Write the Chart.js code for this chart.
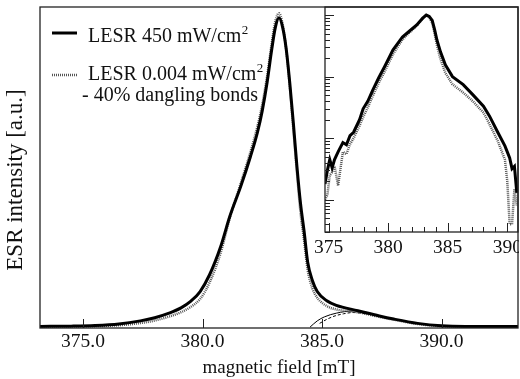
<!DOCTYPE html>
<html>
<head>
<meta charset="utf-8">
<script src="https://cdn.jsdelivr.net/npm/chart.js@4.4.1/dist/chart.umd.min.js"></script>
<style>
  html, body { margin: 0; padding: 0; background: #fff; }
  #wrap { position: relative; width: 520px; height: 379px; }
  #main { position: absolute; left: 0; top: 0; }
  #inset { position: absolute; left: 300px; top: 0; }
</style>
</head>
<body>
<div id="wrap">
  <canvas id="main" width="520" height="379"></canvas>
  <canvas id="inset" width="219" height="262"></canvas>
</div>
<script>
// main spectrum, normalised intensity vs field (mT)
var fieldMain = [373.2, 374.5, 375.5, 376.5, 377.4, 378.0, 378.6, 379.1, 379.5, 379.9,
  380.3, 380.75, 381.15, 381.6, 382.0, 382.3, 382.5, 382.7, 382.9, 383.05,
  383.2, 383.35, 383.5, 383.65, 383.8, 383.95, 384.1, 384.25, 384.4, 384.6,
  384.8, 385.2, 385.6, 386.5, 387.4, 388.0, 389.0, 390.0, 391.0, 392.0, 393.2];
var lesrHigh = [0.002, 0.003, 0.005, 0.010, 0.020, 0.030, 0.045, 0.062, 0.083, 0.115,
  0.170, 0.258, 0.360, 0.455, 0.550, 0.630, 0.700, 0.790, 0.900, 0.970,
  1.000, 0.970, 0.900, 0.790, 0.660, 0.520, 0.400, 0.310, 0.210, 0.150,
  0.115, 0.085, 0.070, 0.053, 0.036, 0.026, 0.012, 0.004, 0.002, 0.002, 0.002];
var lesrLow = [0.001, 0.002, 0.003, 0.006, 0.013, 0.021, 0.034, 0.048, 0.065, 0.091,
  0.145, 0.238, 0.355, 0.465, 0.565, 0.650, 0.720, 0.810, 0.920, 0.990,
  1.015, 0.980, 0.900, 0.780, 0.640, 0.500, 0.370, 0.280, 0.185, 0.125,
  0.095, 0.068, 0.057, 0.048, 0.033, 0.024, 0.010, 0.003, 0.001, 0.001, 0.001];

// dangling bond component lines
var dbFieldHigh = [384.5, 384.8, 385.1, 385.6, 386.3, 387.0];
var dbHigh = [0.000, 0.020, 0.033, 0.045, 0.052, 0.046];
var dbFieldLow = [384.9, 385.2, 385.5, 385.9, 386.3, 387.0];
var dbLow = [0.012, 0.025, 0.035, 0.043, 0.047, 0.041];

var mainTicks = [375, 380, 385, 390];

// inset, log intensity
var fieldInset = [374.7, 374.9, 375.1, 375.3, 375.5, 375.8, 376.2, 376.5, 376.8, 377.1,
  377.6, 377.9, 378.3, 378.7, 379.2, 379.7, 380.4, 381.2, 381.7, 382.4,
  382.9, 383.2, 383.45, 383.7, 383.9, 384.1, 384.4, 384.8, 385.4, 386.3,
  387.1, 388.0, 388.5, 389.2, 389.8, 390.0, 390.2, 390.4, 390.6, 390.8];
var insetHigh = [0.0018, 0.0030, 0.0045, 0.0033, 0.0045, 0.0060, 0.0085, 0.0078, 0.0110, 0.0125,
  0.020, 0.030, 0.040, 0.060, 0.095, 0.145, 0.270, 0.440, 0.530, 0.690,
  0.890, 1.000, 0.950, 0.820, 0.580, 0.390, 0.250, 0.155, 0.100, 0.074,
  0.051, 0.033, 0.023, 0.0125, 0.0075, 0.0060, 0.0048, 0.0032, 0.0035, 0.0013];
var insetLow = [0.0010, 0.0012, 0.0025, 0.0028, 0.0035, 0.0017, 0.0060, 0.0055, 0.0080, 0.0100,
  0.016, 0.022, 0.032, 0.048, 0.078, 0.120, 0.230, 0.400, 0.500, 0.670,
  0.880, 1.000, 0.920, 0.750, 0.500, 0.320, 0.190, 0.115, 0.075, 0.055,
  0.040, 0.026, 0.017, 0.009, 0.0045, 0.0020, 0.0004, 0.0004, 0.0015, 0.0008];

var insetMajor = [375, 380, 385, 390];

var SERIF = '"Liberation Serif", "Times New Roman", serif';
Chart.defaults.font.family = SERIF;
Chart.defaults.font.size = 19.5;
Chart.defaults.color = '#111';

function pts(xs, ys) {
  return xs.map(function(x, i) { return { x: x, y: ys[i] }; });
}

function line(data, opts) {
  var ds = {
    data: data,
    borderColor: '#000',
    borderWidth: 3,
    pointRadius: 0,
    fill: false,
    cubicInterpolationMode: 'monotone'
  };
  for (var k in opts) ds[k] = opts[k];
  return ds;
}

// text with a raised "2"
function textSup(ctx, txt, sup, x, y) {
  ctx.font = '20px ' + SERIF;
  ctx.fillText(txt, x, y);
  var w = ctx.measureText(txt).width;
  ctx.font = '13px ' + SERIF;
  ctx.fillText(sup, x + w + 0.5, y - 8);
}

// frame, inward ticks, legend and y title for the main plot
var mainDecor = {
  id: 'mainDecor',
  afterDatasetsDraw: function(chart) {
    var ctx = chart.ctx, a = chart.chartArea, sx = chart.scales.x;
    ctx.save();
    ctx.strokeStyle = '#222';
    ctx.lineWidth = 1.3;
    ctx.strokeRect(a.left, a.top, a.right - a.left, a.bottom - a.top);
    ctx.lineWidth = 1;
    mainTicks.forEach(function(v) {
      var px = Math.round(sx.getPixelForValue(v)) + 0.5;
      ctx.beginPath();
      ctx.moveTo(px, a.bottom);
      ctx.lineTo(px, a.bottom - 9);
      ctx.stroke();
    });

    // legend
    ctx.lineWidth = 3;
    ctx.strokeStyle = '#000';
    ctx.beginPath(); ctx.moveTo(52, 33); ctx.lineTo(77, 33); ctx.stroke();
    ctx.strokeStyle = '#555';
    ctx.lineWidth = 2.5;
    ctx.setLineDash([1, 1]);
    ctx.beginPath(); ctx.moveTo(52, 75); ctx.lineTo(77, 75); ctx.stroke();
    ctx.setLineDash([]);
    ctx.fillStyle = '#111';
    ctx.textBaseline = 'alphabetic';
    textSup(ctx, 'LESR 450 mW/cm', '2', 88, 42);
    textSup(ctx, 'LESR 0.004 mW/cm', '2', 88, 80);
    ctx.font = '20px ' + SERIF;
    ctx.fillText('- 40% dangling bonds', 82, 101);

    // y title
    ctx.translate(16, 180);
    ctx.rotate(-Math.PI / 2);
    ctx.font = '23px ' + SERIF;
    ctx.textAlign = 'center';
    ctx.textBaseline = 'middle';
    ctx.fillText('ESR intensity [a.u.]', 0, 0);
    ctx.restore();
  }
};

new Chart(document.getElementById('main'), {
  type: 'line',
  data: {
    datasets: [
      line(pts(fieldMain, lesrHigh), { label: 'LESR 450 mW/cm\u00B2', order: 1 }),
      line(pts(fieldMain, lesrLow), { label: 'LESR 0.004 mW/cm\u00B2', borderColor: '#555', borderWidth: 2.5, borderDash: [1, 1], order: 2 }),
      line(pts(dbFieldHigh, dbHigh), { label: 'db 450', borderWidth: 1, order: 3 }),
      line(pts(dbFieldLow, dbLow), { label: 'db 0.004', borderWidth: 1, borderDash: [3, 2], order: 4 })
    ]
  },
  options: {
    responsive: false,
    animation: false,
    devicePixelRatio: 1,
    layout: { padding: { top: 7, right: 2, left: 0, bottom: 0 } },
    plugins: { legend: { display: false }, tooltip: { enabled: false } },
    scales: {
      x: {
        type: 'linear',
        min: 373.2,
        max: 393.2,
        afterBuildTicks: function(s) { s.ticks = mainTicks.map(function(v) { return { value: v }; }); },
        afterFit: function(s) { s.height = 51; },
        grid: { display: false },
        border: { display: false },
        ticks: { padding: -6, maxRotation: 0, callback: function(v) { return v.toFixed(1); } },
        title: { display: true, text: 'magnetic field [mT]', font: { size: 19 }, padding: { top: 0, bottom: 0 } }
      },
      y: {
        min: -0.003,
        max: 1.035,
        afterFit: function(s) { s.width = 40; },
        grid: { display: false },
        border: { display: false },
        ticks: { display: false }
      }
    }
  },
  plugins: [mainDecor]
});

// inset frame and inward ticks
var insetDecor = {
  id: 'insetDecor',
  afterDatasetsDraw: function(chart) {
    var ctx = chart.ctx, a = chart.chartArea, sx = chart.scales.x, sy = chart.scales.y;
    ctx.save();
    ctx.strokeStyle = '#222';
    ctx.lineWidth = 1.3;
    ctx.strokeRect(a.left, a.top, a.right - a.left, a.bottom - a.top);
    ctx.lineWidth = 1;
    for (var v = 375; v <= 390; v++) {
      var px = Math.round(sx.getPixelForValue(v)) + 0.5;
      var len = insetMajor.indexOf(v) >= 0 ? 9 : 5;
      ctx.beginPath(); ctx.moveTo(px, a.bottom); ctx.lineTo(px, a.bottom - len); ctx.stroke();
    }
    for (var e = -4; e <= 0; e++) {
      for (var m = 1; m <= 9; m++) {
        var val = m * Math.pow(10, e);
        if (val < sy.min || val > sy.max) continue;
        var py = Math.round(sy.getPixelForValue(val)) + 0.5;
        ctx.beginPath(); ctx.moveTo(a.left, py); ctx.lineTo(a.left + (m === 1 ? 9 : 5), py); ctx.stroke();
      }
    }
    ctx.restore();
  }
};

new Chart(document.getElementById('inset'), {
  type: 'line',
  data: {
    datasets: [
      line(pts(fieldInset, insetHigh), { label: 'LESR 450 mW/cm\u00B2', order: 1, cubicInterpolationMode: 'default', tension: 0 }),
      line(pts(fieldInset, insetLow), { label: 'LESR 0.004 mW/cm\u00B2', borderColor: '#555', borderWidth: 2.5, borderDash: [1, 1], order: 2, cubicInterpolationMode: 'default', tension: 0 })
    ]
  },
  options: {
    responsive: false,
    animation: false,
    devicePixelRatio: 1,
    layout: { padding: { top: 7, right: 1, left: 0, bottom: 0 } },
    plugins: { legend: { display: false }, tooltip: { enabled: false } },
    scales: {
      x: {
        type: 'linear',
        min: 374.7,
        max: 390.9,
        afterBuildTicks: function(s) { s.ticks = insetMajor.map(function(v) { return { value: v }; }); },
        afterFit: function(s) { s.height = 30; },
        grid: { display: false },
        border: { display: false },
        ticks: { padding: -4, maxRotation: 0, autoSkip: false }
      },
      y: {
        type: 'logarithmic',
        min: 0.00032,
        max: 1.35,
        afterFit: function(s) { s.width = 25; },
        grid: { display: false },
        border: { display: false },
        ticks: { display: false }
      }
    }
  },
  plugins: [insetDecor]
});
</script>
</body>
</html>
